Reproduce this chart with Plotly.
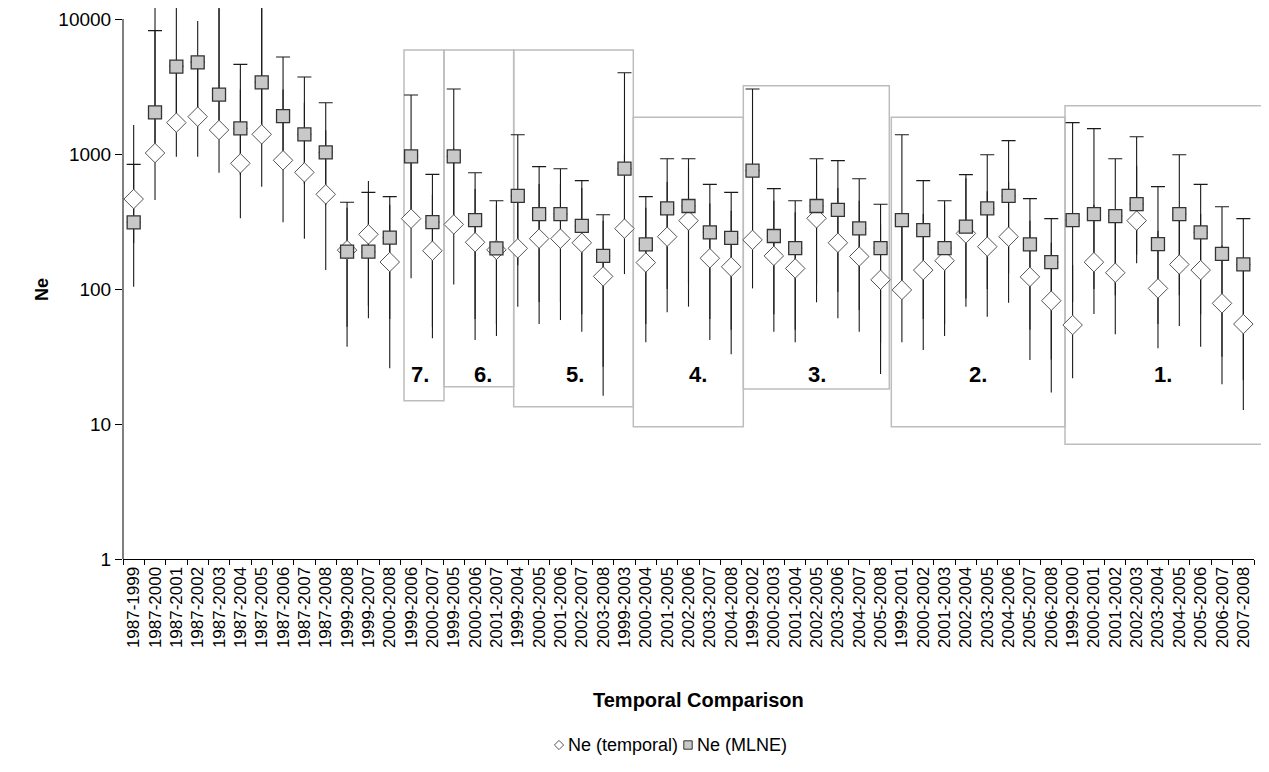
import plotly.graph_objects as go

categories = [
    "1987-1999", "1987-2000", "1987-2001", "1987-2002", "1987-2003", "1987-2004", "1987-2005",
    "1987-2006", "1987-2007", "1987-2008", "1999-2008", "1999-2007", "2000-2008",
    "1999-2006", "2000-2007",
    "1999-2005", "2000-2006", "2001-2007",
    "1999-2004", "2000-2005", "2001-2006", "2002-2007", "2003-2008",
    "1999-2003", "2000-2004", "2001-2005", "2002-2006", "2003-2007", "2004-2008",
    "1999-2002", "2000-2003", "2001-2004", "2002-2005", "2003-2006", "2004-2007", "2005-2008",
    "1999-2001", "2000-2002", "2001-2003", "2002-2004", "2003-2005", "2004-2006", "2005-2007", "2006-2008",
    "1999-2000", "2000-2001", "2001-2002", "2002-2003", "2003-2004", "2004-2005", "2005-2006", "2006-2007", "2007-2008",
]

ne_temporal = [464, 1017, 1707, 1890, 1506, 853, 1399, 898, 731, 503, 194, 254, 158.5,
               332, 192, 301, 222, 195, 200, 236, 236, 220, 124,
               280, 157, 244, 321, 169, 146, 231, 176, 142, 334, 220, 174, 117,
               98.4, 138, 162, 258, 206, 244, 123, 81.9,
               54.1, 158, 132, 321, 101, 152, 138, 78.3, 55]
ne_temporal_low = [104, 456, 955, 955, 727, 334, 573, 312, 236, 138, 37.4, 60.7, 25.9,
                   120, 43.1, 108, 41.9, 44.9, 74, 55, 58.9, 48.3, 16.2,
                   129, 40.3, 67.2, 74, 41.9, 32.8, 101, 48.3, 40.3, 79.7, 60.7, 48.3, 23.5,
                   40.3, 35.3, 44.9, 74, 62.3, 79, 29.8, 17.1,
                   21.8, 65.3, 46.2, 155, 36.4, 53.2, 37.4, 19.7, 12.7]
ne_temporal_high = [1640, 20000, 20000, 9660, 12000, 3000, 12000, 3000, 2400, 1500, 400, 631, 420,
                    1000, 497, 1100, 550, 420, 520, 600, 600, 560, 320,
                    1000, 400, 620, 800, 430, 380, 700, 450, 370, 850, 560, 450, 300,
                    300, 360, 420, 660, 530, 620, 320, 220,
                    150, 420, 350, 820, 270, 400, 360, 210, 150]

ne_mlne = [312, 2036, 4436, 4775, 2753, 1549, 3397, 1911, 1399, 1029, 189, 189, 240,
           961, 313, 961, 324, 200, 489, 359, 359, 293, 176,
           778, 214, 396, 412, 263, 239, 753, 247, 201, 412, 385, 281, 201,
           324, 273, 201, 290, 396, 489, 214, 158,
           324, 359, 347, 426, 215, 359, 263, 182, 152]
ne_mlne_low = [218, 925, 2000, 2100, 1300, 700, 1500, 850, 600, 420, 52.6, 75, 60,
               350, 52.6, 350, 60, 55, 150, 80, 80, 65, 26.6,
               250, 55, 100, 110, 60, 50, 200, 65, 50, 110, 95, 70, 40,
               90, 60, 55, 85, 100, 130, 50, 30,
               80, 100, 90, 180, 55, 90, 65, 31.5, 21.2]
ne_mlne_high = [838, 8200, 4500, 4850, 15000, 4615, 15000, 5231, 3717, 2399, 439, 520, 483,
                2735, 707, 3030, 727, 451, 1390, 806, 778, 635, 355,
                4002, 483, 923, 923, 596, 520, 3030, 554, 451, 923, 893, 656, 424,
                1390, 635, 451, 703, 988, 1256, 467, 332,
                1707, 1541, 923, 1343, 573, 988, 596, 407, 332]

group_labels = ["7.", "6.", "5.", "4.", "3.", "2.", "1."]
y_tick_values = [1, 10, 100, 1000, 10000]
y_tick_text = ["1", "10", "100", "1000", "10000"]

FONT = "Arial, 'Liberation Sans', Helvetica, sans-serif"
# the page body adds an 8 px offset; the figure is sized to end at the window edge
OFF = 8
W, H = 1269 - OFF, 772 - OFF
# plot area in window pixel coordinates
PX0, PX1, PY0, PY1 = 123, 1254, 8, 559


def fx(px):
    return (px - PX0) / (PX1 - PX0)


def fy(py):
    return (PY1 - py) / (PY1 - PY0)


fig = go.Figure()

# error bars first (drawn beneath all markers)
fig.add_trace(go.Scatter(
    x=categories, y=ne_temporal, mode="markers",
    marker=dict(size=1, opacity=0), showlegend=False, hoverinfo="skip",
    error_y=dict(type="data", symmetric=False,
                 array=[h - v for h, v in zip(ne_temporal_high, ne_temporal)],
                 arrayminus=[v - l for v, l in zip(ne_temporal, ne_temporal_low)],
                 width=0, thickness=1.1, color="#1a1a1a")))
fig.add_trace(go.Scatter(
    x=categories, y=ne_mlne, mode="markers",
    marker=dict(size=1, opacity=0), showlegend=False, hoverinfo="skip",
    error_y=dict(type="data", symmetric=False,
                 array=[h - v for h, v in zip(ne_mlne_high, ne_mlne)],
                 arrayminus=[0 for _ in ne_mlne],
                 width=7, thickness=1.1, color="#1a1a1a")))
fig.add_trace(go.Scatter(
    x=categories, y=ne_mlne, mode="markers",
    marker=dict(size=1, opacity=0), showlegend=False, hoverinfo="skip",
    error_y=dict(type="data", symmetric=False,
                 array=[0 for _ in ne_mlne],
                 arrayminus=[v - l for v, l in zip(ne_mlne, ne_mlne_low)],
                 width=0, thickness=1.1, color="#1a1a1a")))

fig.add_trace(go.Scatter(
    x=categories, y=ne_temporal, mode="markers", name="Ne (temporal)",
    marker=dict(symbol="diamond", size=15, color="white",
                line=dict(color="#555555", width=1)),
    showlegend=False))
fig.add_trace(go.Scatter(
    x=categories, y=ne_mlne, mode="markers", name="Ne (MLNE)",
    marker=dict(symbol="square", size=13, color="#c8c8c8",
                line=dict(color="#333333", width=1.3)),
    showlegend=False))

shapes = []
# group boxes (pixel extents of the reference)
boxes = [(404, 444, 50, 400.7), (444, 513.7, 50, 386.7), (513.7, 633.3, 50, 406.7),
         (633.3, 743.3, 117.3, 426.7), (743.3, 889.3, 85.7, 389),
         (891.3, 1065, 117.3, 426.7), (1065, 1264.3, 105.7, 444.3)]
for x0, x1, y0, y1 in boxes:
    shapes.append(dict(type="rect", xref="paper", yref="paper",
                       x0=fx(x0), x1=fx(x1), y0=fy(y1), y1=fy(y0),
                       line=dict(color="#bdbdbd", width=1.5), layer="below"))
# y axis line from 1 to 10000
shapes.append(dict(type="line", xref="paper", yref="paper", x0=0, x1=0,
                   y0=0, y1=fy(19), line=dict(color="black", width=1)))

# legend symbols
lx_d, lx_s, ly = 559, 688, 745
hd = 4.6
shapes.append(dict(type="path", xref="paper", yref="paper",
                   path=(f"M {fx(lx_d - hd)},{fy(ly)} L {fx(lx_d)},{fy(ly - hd)} "
                         f"L {fx(lx_d + hd)},{fy(ly)} L {fx(lx_d)},{fy(ly + hd)} Z"),
                   fillcolor="white", line=dict(color="#555555", width=1)))
hs = 4.2
shapes.append(dict(type="rect", xref="paper", yref="paper",
                   x0=fx(lx_s - hs), x1=fx(lx_s + hs), y0=fy(ly + hs), y1=fy(ly - hs),
                   fillcolor="#c8c8c8", line=dict(color="#333333", width=1)))

annotations = []
label_x = [420, 483, 575, 698, 817, 978, 1163]
for txt, px in zip(group_labels, label_x):
    annotations.append(dict(text=f"<b>{txt}</b>", xref="paper", yref="paper",
                            x=fx(px), y=fy(374), xanchor="center", yanchor="middle",
                            showarrow=False, font=dict(family=FONT, size=22, color="black")))
annotations.append(dict(text="<b>Temporal Comparison</b>", xref="paper", yref="paper",
                        x=fx(698), y=fy(700), xanchor="center", yanchor="middle",
                        showarrow=False, font=dict(family=FONT, size=20, color="black")))
annotations.append(dict(text="<b>Ne</b>", xref="paper", yref="paper",
                        x=fx(42), y=fy(290), xanchor="center", yanchor="middle",
                        textangle=-90, showarrow=False,
                        font=dict(family=FONT, size=18, color="black")))
annotations.append(dict(text="Ne (temporal)", xref="paper", yref="paper",
                        x=fx(566), y=fy(745), xanchor="left", yanchor="middle",
                        showarrow=False, font=dict(family=FONT, size=18, color="black")))
annotations.append(dict(text="Ne (MLNE)", xref="paper", yref="paper",
                        x=fx(695), y=fy(745), xanchor="left", yanchor="middle",
                        showarrow=False, font=dict(family=FONT, size=18, color="black")))

fig.update_layout(
    width=W, height=H,
    margin=dict(l=PX0 - OFF, r=W - (PX1 - OFF), t=PY0 - OFF, b=H - (PY1 - OFF), pad=0),
    paper_bgcolor="white", plot_bgcolor="white",
    showlegend=False,
    shapes=shapes, annotations=annotations,
    xaxis=dict(type="category", range=[-0.5, len(categories) - 0.5],
               tickmode="linear", tick0=0, dtick=1, tickson="boundaries",
               ticks="outside", ticklen=5, tickcolor="black", tickwidth=1,
               tickangle=-90, showline=True, linecolor="black", linewidth=1,
               showgrid=False, zeroline=False, automargin=False,
               tickfont=dict(family=FONT, size=17, color="black")),
    yaxis=dict(type="log", range=[0, 4.0815],
               tickmode="array", tickvals=y_tick_values, ticktext=y_tick_text,
               ticks="outside", ticklen=7, tickcolor="black", tickwidth=1,
               showline=False, showgrid=False, zeroline=False, automargin=False,
               tickfont=dict(family=FONT, size=19, color="black")),
)

fig.write_html("out.html")
